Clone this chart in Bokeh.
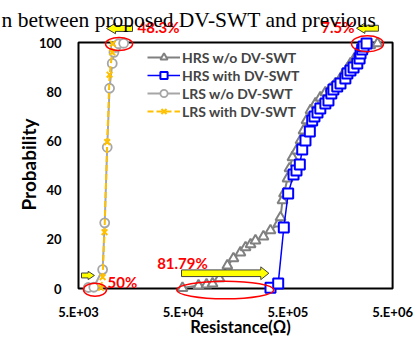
import numpy as np
from bokeh.plotting import figure
from bokeh.models import Range1d, FixedTicker, Legend, LogAxis, LinearAxis
from bokeh.core.properties import value
from bokeh.embed import file_html
from bokeh.resources import INLINE

# ---------------- data ----------------
hrs_wo_x = [4.92e4, 7.0e4, 8.35e4, 9.53e4, 1.11e5, 1.32e5, 1.51e5, 1.76e5, 1.97e5, 2.20e5,
            2.45e5, 2.92e5, 3.41e5, 4.07e5, 4.25e5, 4.44e5, 4.59e5, 4.96e5, 5.18e5, 5.53e5,
            6.04e5, 6.60e5, 7.05e5, 7.53e5, 8.22e5, 9.17e5, 1.02e6, 1.14e6, 1.28e6, 1.42e6,
            1.59e6, 1.70e6, 1.85e6, 1.98e6, 2.16e6, 2.36e6, 2.64e6, 3.06e6, 3.59e6]
hrs_wo_y = [0.2, 1.2, 1.6, 2.0, 4.1, 9.3, 12.2, 14.6, 16.7, 17.9,
            19.5, 21.1, 23.6, 26.4, 28.9, 35.8, 38.6, 44.7, 48.8, 53.3,
            56.1, 60.2, 64.2, 68.3, 72.4, 75.2, 77.6, 79.7, 81.3, 83.3,
            85.4, 87.4, 89.4, 91.5, 93.5, 95.5, 97.6, 98.8, 99.6]

hrs_w_x = [3.41e5, 4.04e5, 4.57e5, 5.03e5, 5.66e5, 6.04e5, 6.50e5, 6.85e5, 7.36e5, 8.10e5,
           8.53e5, 8.97e5, 9.59e5, 1.02e6, 1.14e6, 1.22e6, 1.30e6, 1.36e6, 1.48e6, 1.59e6,
           1.77e6, 1.85e6, 1.98e6, 2.12e6, 2.30e6, 2.42e6, 2.47e6, 2.56e6, 2.64e6, 2.82e6]
hrs_w_y = [0.3, 2.0, 24.8, 38.6, 46.3, 48.0, 50.4, 56.5, 60.2, 63.8,
           68.3, 69.9, 71.5, 73.2, 75.2, 76.4, 79.3, 80.9, 82.1, 83.3,
           85.4, 87.4, 88.6, 89.8, 91.5, 93.5, 95.5, 97.2, 98.4, 99.6]

lrs_wo_x = [6.2e3, 7.0e3, 8.5e3, 8.9e3, 9.4e3, 9.9e3, 1.05e4, 1.09e4, 1.13e4, 1.21e4, 1.35e4]
lrs_wo_y = [0.4, 0.5, 7.7, 26.7, 57.4, 81.4, 91.5, 96.0, 98.0, 99.5, 99.7]

lrs_w_x = [8.2e3, 8.5e3, 8.86e3, 9.4e3, 9.9e3, 1.05e4, 1.06e4]
lrs_w_y = [0.3, 4.6, 22.9, 59.5, 86.9, 96.0, 99.5]

x_ticks = [5e3, 5e4, 5e5, 5e6]
x_tick_labels = ["5.E+03", "5.E+04", "5.E+05", "5.E+06"]
y_ticks = [0, 20, 40, 60, 80, 100]

series_names = ["HRS w/o DV-SWT", "HRS with DV-SWT", "LRS w/o DV-SWT", "LRS with DV-SWT"]
x_title = "Resistance(Ω)"
y_title = "Probability"
top_text = "n between proposed DV-SWT and previous"

# annotations (data coords)
pct_texts = ["48.3%", "7.5%", "50%", "81.79%"]
pct_x = [1.83e4, 2.16e6, 9.46e3, 2.82e4]
pct_y = [106.4, 106.4, 2.6, 10.4]
pct_align = ["left", "right", "left", "left"]

ell_x = [1.22e4, 2.88e6, 7.19e3, 1.26e5]
ell_y = [99.4, 99.5, -0.5, -0.6]
ell_w = [27, 32, 23, 97]
ell_h = [13, 16, 13, 17.6]

arr_tail = [1.64e4, 3.66e6, 5.34e3, 4.82e4]
arr_tip = [9.26e3, 2.26e6, 7.1e3, 3.29e5]
arr_y = [105.7, 105.8, 5.3, 6.2]

# ---------------- layout geometry ----------------
W, H = 418, 337            # canvas size
PX_X0 = 78                 # canvas x of x_ticks[0]
PX_DEC = 104.7             # px per decade
PY_Y0 = 288                # canvas y of y=0
PX_PER_Y = 2.46            # px per probability unit

x_lo = x_ticks[0] * 10 ** (-PX_X0 / PX_DEC)
x_hi = x_ticks[0] * 10 ** ((W - PX_X0) / PX_DEC)
y_hi = PY_Y0 / PX_PER_Y
y_lo = -(H - PY_Y0) / PX_PER_Y

def xd(cx):   # canvas x -> data x (text placement only)
    return x_ticks[0] * 10 ** ((cx - PX_X0) / PX_DEC)

def yd(cy):
    return (PY_Y0 - cy) / PX_PER_Y

FONT = "Lato"

p = figure(width=W, height=H, x_axis_type="log",
           x_range=Range1d(x_lo, x_hi), y_range=Range1d(y_lo, y_hi),
           x_axis_location=None, y_axis_location=None,
           output_backend="svg", toolbar_location=None, title_location=None,
           min_border_left=0, min_border_right=0, min_border_top=0, min_border_bottom=0)
p.outline_line_color = None
p.grid.visible = False
p.background_fill_color = "white"
p.border_fill_color = "white"

# axes drawn at fixed locations (no panel space)
xaxis = LogAxis(fixed_location=y_ticks[0], ticker=FixedTicker(ticks=x_ticks))
xaxis.major_label_overrides = {t: l for t, l in zip(x_ticks, x_tick_labels)}
yaxis = LinearAxis(fixed_location=x_ticks[0], ticker=FixedTicker(ticks=y_ticks))
for ax in (xaxis, yaxis):
    ax.axis_line_color = None
    ax.major_tick_line_color = None
    ax.minor_tick_line_color = None
    ax.major_tick_out = 0
    ax.major_tick_in = 0
    ax.minor_tick_out = 0
    ax.minor_tick_in = 0
    ax.major_label_text_font = FONT
    ax.major_label_text_font_style = "bold"
    ax.major_label_text_font_size = "13px"
    ax.major_label_text_color = "black"
xaxis.major_label_standoff = 15
yaxis.major_label_standoff = 17
p.add_layout(xaxis, "below")
p.add_layout(yaxis, "left")

# frame box
p.quad(left=[x_ticks[0]], right=[x_ticks[-1]], bottom=[y_ticks[0]], top=[y_ticks[-1]],
       fill_color=None, line_color="black", line_width=2)

gray = "#808080"
blue = "#0000ff"
lgray = "#a6a6a6"
orange = "#ffc000"

r1a = p.line(hrs_wo_x, hrs_wo_y, line_color=gray, line_width=2)
r1b = p.scatter(hrs_wo_x, hrs_wo_y, marker="triangle", size=10, line_color=gray,
                fill_color="white", line_width=2)
r2a = p.line(hrs_w_x, hrs_w_y, line_color=blue, line_width=1.5)
r2b = p.scatter(hrs_w_x, hrs_w_y, marker="square", size=10, line_color=blue,
                fill_color="white", line_width=2)
r3a = p.line(lrs_wo_x, lrs_wo_y, line_color=lgray, line_width=2)
r3b = p.scatter(lrs_wo_x, lrs_wo_y, marker="circle", size=9, line_color=lgray,
                fill_color="white", line_width=1.8)
r4a = p.line(lrs_w_x, lrs_w_y, line_color=orange, line_width=2, line_dash="6 3")
r4b = p.scatter(lrs_w_x, lrs_w_y, marker="x", size=8, line_color=orange, line_width=2)

# ellipses
p.ellipse(x=ell_x, y=ell_y, width=ell_w, height=ell_h, width_units="screen",
          height_units="screen", fill_color=None, line_color="#ff0000", line_width=1.5)

# block arrows
def block_arrow(x_tail, x_tip, y, head_dec, head_h, shaft_h):
    l0, l1 = np.log10(x_tail), np.log10(x_tip)
    d = 1 if l1 > l0 else -1
    lh = l1 - d * head_dec
    xs = list(10 ** np.array([l0, lh, lh, l1, lh, lh, l0]))
    ys = [y - shaft_h, y - shaft_h, y - head_h, y, y + head_h, y + shaft_h, y + shaft_h]
    return xs, ys

arr_shapes = [(0.086, 2.15, 1.2), (0.08, 2.1, 1.2), (0.06, 1.7, 1.0), (0.077, 2.6, 1.35)]
axs, ays = [], []
for t, h, yy, (hd, hh, sh) in zip(arr_tail, arr_tip, arr_y, arr_shapes):
    xs, ys = block_arrow(t, h, yy, hd, hh, sh)
    axs.append(xs)
    ays.append(ys)
p.patches(axs, ays, fill_color="#ffff00", line_color="#404040", line_width=1)

for t, xx, yy, al in zip(pct_texts, pct_x, pct_y, pct_align):
    p.text(x=[xx], y=[yy], text=[t], text_align=al, text_baseline="middle",
           text_color="#ff0000", text_font=value(FONT), text_font_style="bold",
           text_font_size="15px")

# axis titles and the cropped caption line
p.text(x=[xd(27.5)], y=[yd(164)], text=[y_title], angle=np.pi / 2, text_align="center",
       text_baseline="middle", text_font=value(FONT), text_font_style="bold",
       text_font_size="19px", text_color="black")
p.text(x=[xd(240)], y=[yd(326)], text=[x_title], text_align="center",
       text_baseline="alphabetic", text_font=value(FONT), text_font_style="bold",
       text_font_size="16.5px", text_color="black")
p.text(x=[xd(1)], y=[yd(19.5)], text=[top_text], text_align="left",
       text_baseline="alphabetic", text_font=value("Liberation Serif"),
       text_font_size="21.5px", text_color="black")

# legend
legend = Legend(items=[(series_names[0], [r1a, r1b]), (series_names[1], [r2a, r2b]),
                       (series_names[2], [r3a, r3b]), (series_names[3], [r4a, r4b])],
                location=(147, 217), glyph_width=33, glyph_height=18, label_height=18,
                spacing=0, padding=0, margin=0, label_standoff=2,
                border_line_color=None, background_fill_alpha=0,
                label_text_font=FONT, label_text_font_style="bold",
                label_text_font_size="14px")
p.add_layout(legend, "center")

open("out.html", "w").write(file_html(p, INLINE))
